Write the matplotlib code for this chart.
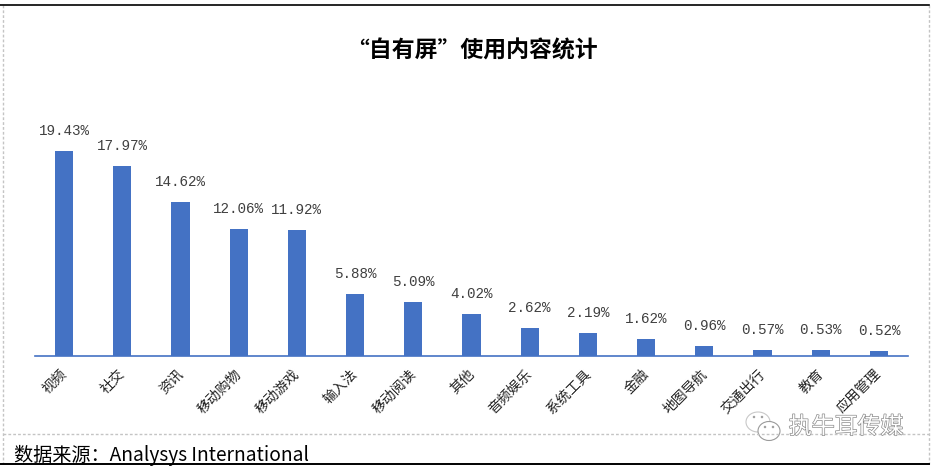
import matplotlib
matplotlib.use('Agg')
import matplotlib.pyplot as plt
import matplotlib.patheffects as pe
from matplotlib.patches import Ellipse
from matplotlib.transforms import ScaledTranslation

plt.rcParams['font.family'] = ['Noto Sans CJK SC', 'DejaVu Sans']

categories = ['视频', '社交', '资讯', '移动购物', '移动游戏', '输入法', '移动阅读', '其他',
              '音频娱乐', '系统工具', '金融', '地图导航', '交通出行', '教育', '应用管理']
values = [19.43, 17.97, 14.62, 12.06, 11.92, 5.88, 5.09, 4.02,
          2.62, 2.19, 1.62, 0.96, 0.57, 0.53, 0.52]
title_text = '“自有屏”使用内容统计'
source_text = '数据来源：Analysys International'
watermark_text = '执牛耳传媒'

W, H = 934, 468
BLUE = '#4472C4'
DASH = '#c4c4c4'

fig = plt.figure(figsize=(W / 100, H / 100), dpi=100, facecolor='white')

# overlay in pixel coordinates for the frame and the watermark
bg = fig.add_axes([0, 0, 1, 1])
bg.set_xlim(0, W)
bg.set_ylim(H, 0)
bg.axis('off')
bg.plot([3, 3], [5, 464], color=DASH, lw=1, ls=(0, (2, 1.5)))
bg.plot([929, 929], [5, 464], color=DASH, lw=1, ls=(0, (2, 1.5)))
bg.plot([3, 929], [434, 434], color=DASH, lw=1, ls=(0, (2, 1.5)))
bg.plot([0, 929], [4.5, 4.5], color='black', lw=1.2)
bg.plot([0, 929], [464, 464], color='black', lw=1.4)

# bars
ax = fig.add_axes([35 / W, (H - 356) / H, 873 / W, 256 / H])
ax.patch.set_alpha(0)
x = list(range(len(categories)))
ax.bar(x, values, width=0.31, color=BLUE)
ax.set_xlim(-0.5, len(categories) - 0.5)
ax.set_ylim(0, 256 / 10.55)
for s in ['top', 'left', 'right']:
    ax.spines[s].set_visible(False)
ax.spines['bottom'].set_color(BLUE)
ax.spines['bottom'].set_linewidth(1.2)
ax.set_yticks([])
ax.set_xticks(x)
ax.set_xticklabels(categories, rotation=45, ha='right', rotation_mode='anchor', fontsize=10, color='#222222')
ax.tick_params(axis='x', length=0, pad=8)
# labels sit a little left of the bar centres
shift = ScaledTranslation(-4.5 / 100, 0, fig.dpi_scale_trans)
for lab in ax.get_xticklabels():
    lab.set_transform(lab.get_transform() + shift)
for i, v in zip(x, values):
    ax.annotate(f'{v:.2f}%', (i, v), xytext=(0, 13), textcoords='offset pixels', ha='center', va='bottom',
                family='Liberation Mono', fontsize=10.3, color='#404040')

fig.text(471.5 / W, 1 - 51 / H, title_text, ha='center', va='center', fontsize=16.5, fontweight='bold', color='black')
fig.text(14 / W, 1 - 455 / H, source_text, ha='left', va='center', fontsize=13.8, color='black')

# watermark
bg.set_zorder(3)
bg.text(846, 427, watermark_text, ha='center', va='center', fontsize=16.5, color='white',
        path_effects=[pe.withStroke(linewidth=1.0, foreground='#8a8a8a')])
bg.add_patch(Ellipse((758, 422), 24, 20, fc='white', ec='#c8c8c8', lw=0.8))
bg.add_patch(Ellipse((769, 431), 22, 19, fc='white', ec='#9a9a9a', lw=0.8))
for ex, ey in [(754, 417), (762, 417), (765, 427), (773, 427)]:
    bg.add_patch(Ellipse((ex, ey), 2.5, 2.5, fc='#a0a0a0', ec='none'))

fig.savefig('out.png', dpi=100)
